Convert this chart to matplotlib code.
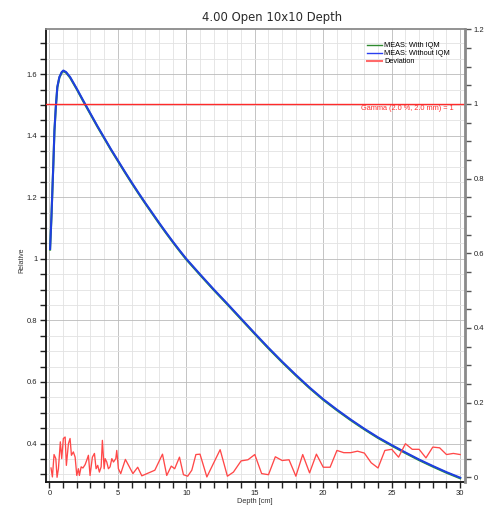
import matplotlib
matplotlib.use('Agg')
import matplotlib.pyplot as plt
import matplotlib.transforms as mtransforms
from matplotlib.lines import Line2D
from matplotlib.ticker import MultipleLocator, FuncFormatter

plt.rcParams['font.family'] = ['Liberation Sans', 'DejaVu Sans']

# measured depth dose (relative, left axis)
depth = [0.05, 0.15, 0.22, 0.29, 0.37, 0.47, 0.58, 0.73, 0.90, 1.02, 1.22, 1.51,
         2.0, 2.5, 3.0, 3.5, 4.0, 4.5, 5.0, 5.5, 6.0, 6.5, 7.0, 7.5, 8.0, 8.5,
         9.0, 9.5, 10, 11, 12, 13, 14, 15, 16, 17, 18, 19, 20, 21, 22, 23, 24,
         25, 26, 27, 28, 29, 30]
relative = [1.032, 1.137, 1.224, 1.310, 1.418, 1.494, 1.559, 1.591, 1.607, 1.612,
            1.607, 1.591, 1.553, 1.512, 1.472, 1.432, 1.394, 1.356, 1.320, 1.284,
            1.249, 1.215, 1.182, 1.150, 1.118, 1.087, 1.057, 1.028, 1.000, 0.950,
            0.901, 0.854, 0.806, 0.758, 0.711, 0.666, 0.623, 0.582, 0.544, 0.510,
            0.478, 0.448, 0.420, 0.395, 0.371, 0.348, 0.327, 0.307, 0.289]

# gamma deviation (right axis)
dev_depth = [0.12, 0.22, 0.34, 0.47, 0.56, 0.66, 0.80, 0.90, 1.02, 1.15, 1.24, 1.39,
             1.51, 1.61, 1.75, 1.88, 2.00, 2.12, 2.19, 2.32, 2.45, 2.61, 2.73, 2.85,
             2.97, 3.14, 3.29, 3.41, 3.53, 3.65, 3.78, 3.87, 4.00, 4.07, 4.19, 4.31,
             4.43, 4.56, 4.68, 4.85, 4.92, 5.04, 5.21, 5.55, 6.10, 6.45, 6.75, 7.7,
             8.26, 8.57, 8.9, 9.15, 9.5, 9.79, 10.1, 10.4, 10.7, 11.0, 11.5, 12.47,
             13.0, 13.44, 14.0, 14.5, 15.0, 15.5, 16.0, 16.5, 17.0, 17.5, 18.0, 18.5,
             19.0, 19.5, 20.0, 20.5, 21.0, 21.5, 22.0, 22.5, 23.0, 23.5, 24.0, 24.5,
             25.0, 25.5, 26.0, 26.5, 27.0, 27.5, 28.0, 28.5, 29.0, 29.5, 30.0]
deviation = [0.025, 0.001, 0.061, 0.050, 0.000, 0.023, 0.095, 0.050, 0.104, 0.108,
             0.032, 0.090, 0.104, 0.059, 0.068, 0.054, 0.005, 0.023, 0.005, 0.028,
             0.025, 0.034, 0.046, 0.059, 0.005, 0.054, 0.064, 0.023, 0.032, 0.014,
             0.028, 0.099, 0.023, 0.050, 0.041, 0.023, 0.028, 0.050, 0.041, 0.050,
             0.072, 0.023, 0.010, 0.048, 0.010, 0.027, 0.004, 0.019, 0.062, 0.005,
             0.030, 0.023, 0.054, 0.007, 0.003, 0.019, 0.061, 0.062, 0.001, 0.074,
             0.003, 0.014, 0.044, 0.047, 0.061, 0.010, 0.007, 0.055, 0.045, 0.047,
             0.003, 0.061, 0.012, 0.062, 0.027, 0.027, 0.072, 0.066, 0.066, 0.070,
             0.065, 0.039, 0.025, 0.072, 0.075, 0.054, 0.090, 0.075, 0.075, 0.052,
             0.081, 0.079, 0.061, 0.064, 0.061]

gamma_limit = 1.0
legend_labels = ['MEAS: With IQM', 'MEAS: Without IQM', 'Deviation']

fig = plt.figure(figsize=(4.84, 5.05), dpi=100)
ax = fig.add_axes([0.0944, 0.0455, 0.8663, 0.8965])
ax2 = ax.twinx()

ax.set_xlim(-0.27, 30.35)
ax.set_ylim(0.275, 1.746)
ax2.set_ylim(-0.0126, 1.2)

ax.xaxis.set_major_locator(MultipleLocator(5))
ax.xaxis.set_minor_locator(MultipleLocator(1))
ax.yaxis.set_major_locator(MultipleLocator(0.2))
ax.yaxis.set_minor_locator(MultipleLocator(0.05))
ax2.yaxis.set_major_locator(MultipleLocator(0.2))
ax2.yaxis.set_minor_locator(MultipleLocator(0.05))
fmt = FuncFormatter(lambda v, p: '%g' % round(v, 3))
ax.yaxis.set_major_formatter(fmt)
ax2.yaxis.set_major_formatter(fmt)

ax.set_axisbelow(True)
ax.grid(which='minor', color='#e2e2e2', lw=0.6)
ax.grid(which='major', color='#bababa', lw=0.6)

ax.tick_params(which='both', direction='out', length=4, width=1, colors='#222222',
               labelsize=5.5, pad=2)
ax2.tick_params(which='both', direction='out', length=4, width=1, colors='#555555',
                labelsize=5.5, pad=2, labelcolor='#222222')

for s in ['left', 'bottom']:
    ax.spines[s].set_color('#111111')
    ax.spines[s].set_linewidth(1.3)
    ax2.spines[s].set_visible(False)
for s in ['right', 'top']:
    ax.spines[s].set_visible(False)
ax2.spines['right'].set_color('#8a8a8a')
ax2.spines['right'].set_linewidth(2)
ax2.spines['top'].set_color('#8a8a8a')
ax2.spines['top'].set_linewidth(1.3)

# green (with IQM) sits just under the blue line
shifted = mtransforms.offset_copy(ax.transData, fig=fig, x=0, y=-0.6, units='dots')
ax.plot(depth, relative, color='#2e9a2e', lw=1.5, transform=shifted)
ax.plot(depth, relative, color='#1f3fe0', lw=1.5)

ax2.axhline(gamma_limit, color='#ff2a2a', lw=1)
ax2.plot(dev_depth, deviation, color='#ff4848', lw=0.95)

handles = [Line2D([], [], color='#2e8a2e', lw=1),
           Line2D([], [], color='#2a3ff0', lw=1),
           Line2D([], [], color='#ff6a6a', lw=1.5)]
ax2.legend(handles, legend_labels, loc='upper left',
           bbox_to_anchor=(367 / 484, 1 - 42 / 505), bbox_transform=fig.transFigure,
           frameon=False, fontsize=5.3, handlelength=2.0, handletextpad=0.35,
           labelspacing=0.12, borderpad=0, borderaxespad=0)

fig.text(454 / 484, 1 - 109 / 505, 'Gamma (2.0 %, 2.0 mm) = 1', ha='right', va='center',
         fontsize=5.3, color='#ff2a2a')
fig.text(271.7 / 484, 1 - 17 / 505, '4.00 Open 10x10 Depth', ha='center', va='center',
         fontsize=8.4, family='DejaVu Sans', color='#2a2a2a')
fig.text(22.3 / 484, 1 - 260 / 505, 'Relative', rotation=90, ha='center', va='center',
         fontsize=5, color='#333333')
fig.text(255 / 484, 1 - 501.5 / 505, 'Depth [cm]', ha='center', va='center',
         fontsize=5.3, color='#333333')

fig.savefig('out.png', dpi=100)
